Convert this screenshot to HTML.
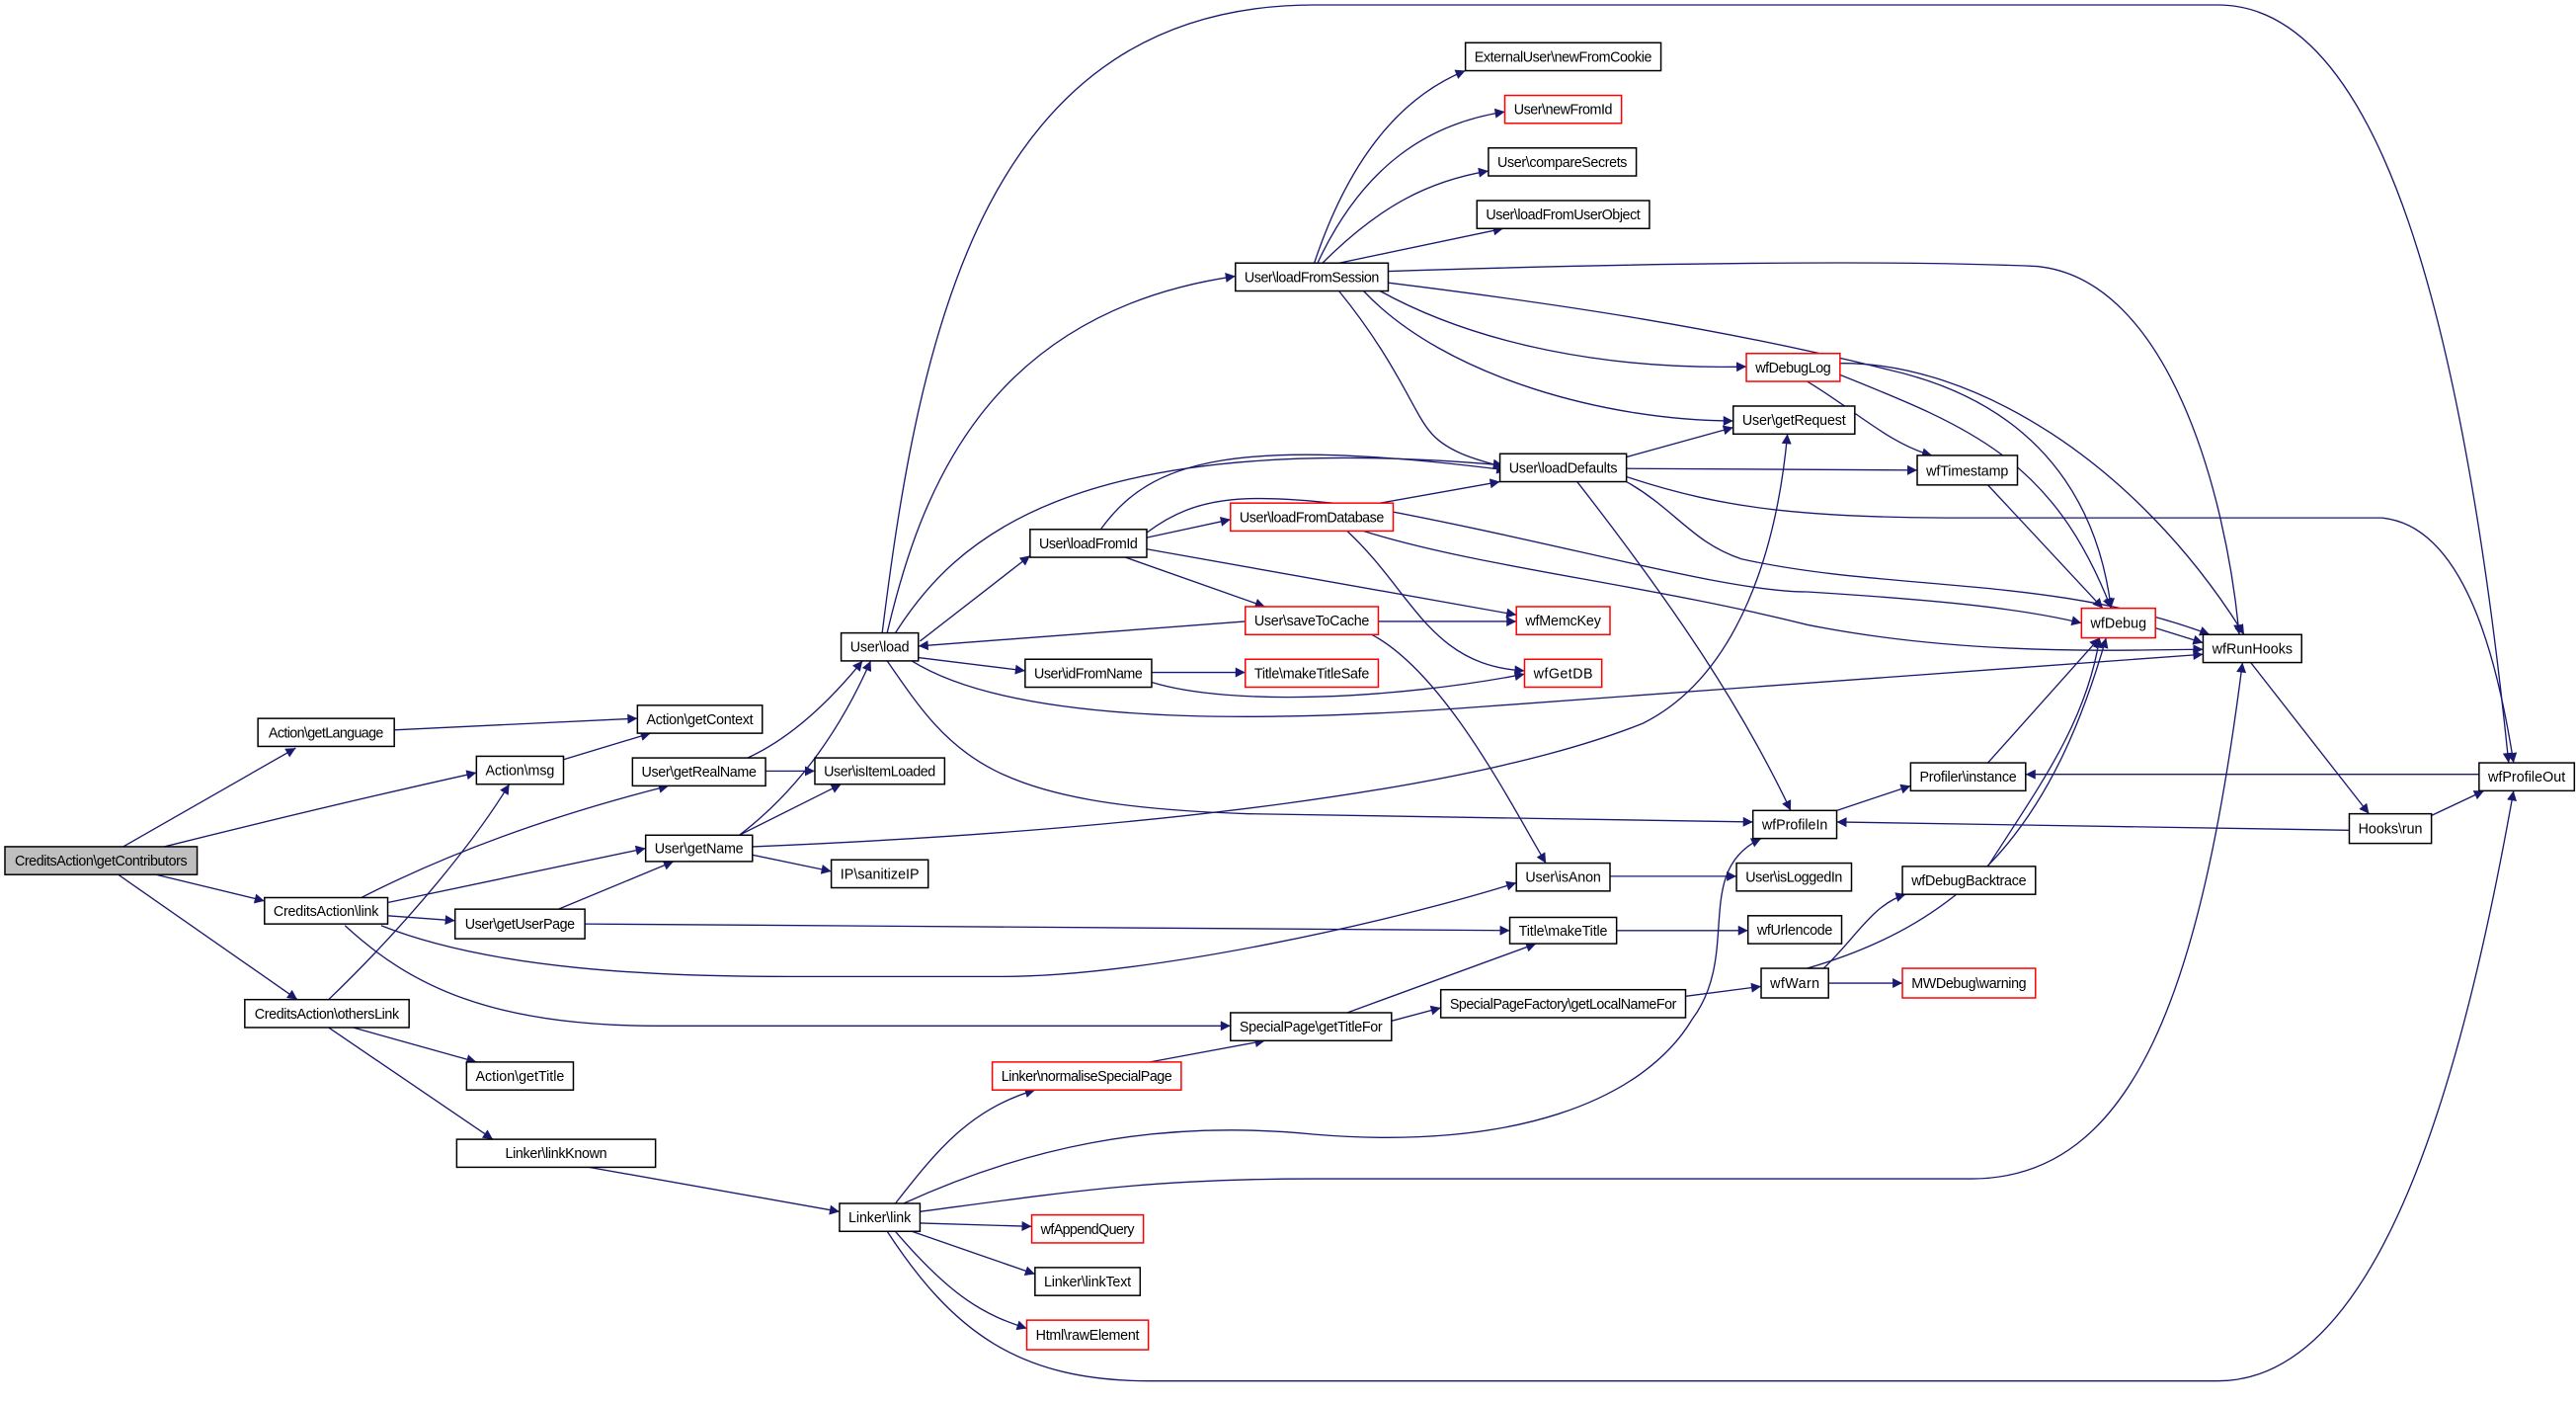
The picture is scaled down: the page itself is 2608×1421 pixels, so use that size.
<!DOCTYPE html>
<html><head><meta charset="utf-8"><style>
html,body{margin:0;padding:0;background:#fff;}
svg{display:block;}
text{font-family:"Liberation Sans",sans-serif;font-size:8.6px;fill:#000;}
</style></head><body>
<svg width="2608" height="1421" viewBox="0 0 1568 854" preserveAspectRatio="none" xmlns="http://www.w3.org/2000/svg">
<defs><marker id="a" viewBox="0 0 10 10" refX="10" refY="5" markerWidth="8" markerHeight="6" markerUnits="userSpaceOnUse" orient="auto"><path d="M0,0 L10,5 L0,10 z" fill="#191970"/></marker></defs>
<g fill="none" stroke="#191970" stroke-width="0.8" marker-end="url(#a)">
<path d="M75,515 L180,455"/>
<path d="M100,515 Q200,490 290,470"/>
<path d="M95,532 L161,548"/>
<path d="M72,532 L181,608"/>
<path d="M240,444 L388,437"/>
<path d="M343,462 L396,446"/>
<path d="M220,546 Q300,505 407,478"/>
<path d="M236,549 L393,516"/>
<path d="M236,557 L277,560"/>
<path d="M232,563 C300,590 400,594 480,594 L610,594 C700,594 850,560 923,537"/>
<path d="M210,563 C250,600 300,624 400,624 L749,624"/>
<path d="M200,608 C250,560 290,510 310,477"/>
<path d="M215,625 L290,646"/>
<path d="M200,625 L300,693"/>
<path d="M466,469 L496,469"/>
<path d="M455,461 Q490,445 525,402"/>
<path d="M450,508 Q500,470 530,402"/>
<path d="M450,508 L512,477"/>
<path d="M458,520 L506,530"/>
<path d="M458,515 C700,505 900,480 1000,440 C1060,410 1082,330 1088,264"/>
<path d="M340,553 L410,524"/>
<path d="M356,562 L919,566"/>
<path d="M353,709 L511,737"/>
<path d="M540,385 C560,300 600,190 752,168"/>
<path d="M537,385 C560,200 600,3 800,3 L1350,3 C1450,3 1500,200 1527,464"/>
<path d="M545,385 C580,330 650,260 915,283"/>
<path d="M560,390 L627,338"/>
<path d="M559,400 L624,408"/>
<path d="M555,402 C600,430 700,445 900,430 L1341,398"/>
<path d="M540,402 C580,460 600,490 760,495 L1067,500"/>
<path d="M670,322 C700,280 750,265 917,286"/>
<path d="M698,327 L749,316"/>
<path d="M685,339 L770,369"/>
<path d="M698,334 L923,374"/>
<path d="M698,324 C730,300 760,300 830,308 C950,330 1050,360 1100,360 C1180,365 1230,370 1267,379"/>
<path d="M701,409 L758,409"/>
<path d="M701,415 C750,430 850,425 928,410"/>
<path d="M758,378 L559,393"/>
<path d="M839,378 L923,378"/>
<path d="M835,386 C880,410 920,490 941,525"/>
<path d="M840,306 L913,293"/>
<path d="M820,323 C860,360 870,405 928,408"/>
<path d="M830,323 C900,345 1000,355 1100,380 C1200,400 1300,395 1341,395"/>
<path d="M800,160 C820,100 850,60 892,43"/>
<path d="M802,160 C830,100 870,75 916,68"/>
<path d="M805,160 C840,125 870,110 906,104"/>
<path d="M815,160 L915,139"/>
<path d="M845,165 C1000,160 1150,158 1240,162 C1320,170 1355,300 1363,386"/>
<path d="M845,172 C950,185 1050,200 1150,225 C1260,250 1280,330 1285,370"/>
<path d="M840,177 C900,210 980,225 1063,223"/>
<path d="M830,177 C880,230 980,256 1055,256"/>
<path d="M815,177 C850,220 860,250 870,262 C880,275 900,280 915,284"/>
<path d="M1100,232 C1130,250 1150,270 1176,277"/>
<path d="M1120,228 C1200,260 1250,280 1285,370"/>
<path d="M1120,221 C1200,220 1300,280 1366,386"/>
<path d="M990,278 L1055,260"/>
<path d="M990,285 L1167,286"/>
<path d="M990,290 C1050,310 1100,315 1200,315 L1450,315 C1500,320 1520,400 1530,464"/>
<path d="M990,293 C1020,310 1030,330 1060,340 C1150,360 1250,350 1345,386"/>
<path d="M960,293 C1020,370 1060,430 1090,493"/>
<path d="M1210,295 L1280,370"/>
<path d="M1312,382 L1341,391"/>
<path d="M1370,403 L1442,495"/>
<path d="M1478,497 L1512,481"/>
<path d="M1430,505 L1118,500"/>
<path d="M1509,471 L1233,471"/>
<path d="M1118,493 L1163,478"/>
<path d="M1210,464 L1278,388"/>
<path d="M980,533 L1057,533"/>
<path d="M984,566 L1064,566"/>
<path d="M820,616 L935,574"/>
<path d="M847,621 L877,613"/>
<path d="M1026,606 L1072,600"/>
<path d="M1110,589 C1130,570 1140,550 1160,544"/>
<path d="M1113,598 L1158,598"/>
<path d="M1100,589 C1200,560 1250,500 1282,388"/>
<path d="M1210,527 C1240,480 1270,440 1278,388"/>
<path d="M700,646 L770,633"/>
<path d="M545,732 C570,700 590,675 630,663"/>
<path d="M550,732 C620,700 700,680 800,690 C920,700 1000,670 1030,620 C1060,580 1030,530 1072,510"/>
<path d="M560,737 C650,725 700,717 800,717 L1200,717 C1300,717 1340,600 1365,403"/>
<path d="M540,749 C580,810 620,840 700,840 L1350,840 C1450,840 1500,650 1530,481"/>
<path d="M560,744 L628,746"/>
<path d="M555,749 L630,775"/>
<path d="M545,749 C580,790 600,800 625,808"/>
</g>
<g stroke-width="0.9" fill="#fff">
<g stroke="#000">
<rect x="3" y="515" width="117" height="17" fill="#bfbfbf"/>
<rect x="157" y="437" width="83" height="17"/>
<rect x="388" y="429" width="76" height="17"/>
<rect x="290" y="460" width="53" height="17"/>
<rect x="385" y="461" width="81" height="17"/>
<rect x="393" y="508" width="65" height="16"/>
<rect x="161" y="546" width="75" height="16"/>
<rect x="277" y="553" width="79" height="18"/>
<rect x="149" y="608" width="100" height="17"/>
<rect x="284" y="646" width="65" height="17"/>
<rect x="466" y="693" width="121" height="17" transform="translate(-188 0)"/>
<rect x="496" y="461" width="79" height="16"/>
<rect x="506" y="523" width="59" height="17"/>
<rect x="892" y="26" width="119" height="17"/>
<rect x="906" y="90" width="90" height="17"/>
<rect x="899" y="122" width="105" height="17"/>
<rect x="752" y="160" width="93" height="17"/>
<rect x="1055" y="247" width="74" height="17"/>
<rect x="913" y="276" width="77" height="17"/>
<rect x="1167" y="277" width="61" height="18"/>
<rect x="1341" y="386" width="60" height="17"/>
<rect x="1163" y="464" width="70" height="17"/>
<rect x="1509" y="464" width="58" height="17"/>
<rect x="1067" y="493" width="51" height="17"/>
<rect x="1430" y="495" width="50" height="18"/>
<rect x="1057" y="525" width="70" height="17"/>
<rect x="1064" y="557" width="57" height="17"/>
<rect x="1158" y="527" width="81" height="17"/>
<rect x="1072" y="589" width="41" height="18"/>
<rect x="512" y="385" width="47" height="17"/>
<rect x="627" y="322" width="71" height="17"/>
<rect x="624" y="401" width="77" height="17"/>
<rect x="923" y="525" width="57" height="17"/>
<rect x="919" y="558" width="65" height="16"/>
<rect x="877" y="602" width="149" height="17"/>
<rect x="749" y="616" width="98" height="17"/>
<rect x="511" y="732" width="49" height="17"/>
<rect x="630" y="771" width="64" height="17"/>
</g>
<g stroke="#f00">
<rect x="916" y="58" width="71" height="17"/>
<rect x="1063" y="215" width="57" height="17"/>
<rect x="749" y="306" width="99" height="17"/>
<rect x="758" y="369" width="81" height="17"/>
<rect x="923" y="369" width="57" height="17"/>
<rect x="758" y="401" width="81" height="17"/>
<rect x="928" y="401" width="47" height="17"/>
<rect x="1267" y="370" width="45" height="18"/>
<rect x="1158" y="589" width="81" height="18"/>
<rect x="604" y="646" width="115" height="17"/>
<rect x="628" y="739" width="68" height="17"/>
<rect x="625" y="803" width="74" height="18"/>
</g>
</g>
<g text-anchor="middle" lengthAdjust="spacingAndGlyphs">
<text x="61.5" y="526.5" textLength="105">CreditsAction\getContributors</text>
<text x="198.5" y="448.5" textLength="70">Action\getLanguage</text>
<text x="426" y="440.5" textLength="65">Action\getContext</text>
<text x="316.5" y="471.5" textLength="42">Action\msg</text>
<text x="425.5" y="472.5" textLength="70">User\getRealName</text>
<text x="425.5" y="519" textLength="54">User\getName</text>
<text x="198.5" y="557" textLength="64">CreditsAction\link</text>
<text x="316.5" y="565" textLength="67">User\getUserPage</text>
<text x="199" y="619.5" textLength="88">CreditsAction\othersLink</text>
<text x="316.5" y="657.5" textLength="54">Action\getTitle</text>
<text x="338.5" y="704.5" textLength="62">Linker\linkKnown</text>
<text x="535.5" y="472" textLength="68">User\isItemLoaded</text>
<text x="535.5" y="534.5" textLength="48">IP\sanitizeIP</text>
<text x="951.5" y="37.5" textLength="108">ExternalUser\newFromCookie</text>
<text x="951.5" y="69.5" textLength="60">User\newFromId</text>
<text x="951" y="101.5" textLength="79">User\compareSecrets</text>
<text x="951.5" y="133.5" textLength="94">User\loadFromUserObject</text>
<text x="798.5" y="171.5" textLength="82">User\loadFromSession</text>
<text x="1091.5" y="226.5" textLength="46">wfDebugLog</text>
<text x="1092" y="258.5" textLength="63">User\getRequest</text>
<text x="951.5" y="287.5" textLength="66">User\loadDefaults</text>
<text x="1197.5" y="289.5" textLength="50">wfTimestamp</text>
<text x="798.5" y="317.5" textLength="88">User\loadFromDatabase</text>
<text x="798.5" y="380.5" textLength="70">User\saveToCache</text>
<text x="951.5" y="380.5" textLength="46">wfMemcKey</text>
<text x="798.5" y="412.5" textLength="70">Title\makeTitleSafe</text>
<text x="951.5" y="412.5" textLength="36">wfGetDB</text>
<text x="1289.5" y="382" textLength="34">wfDebug</text>
<text x="1371" y="397.5" textLength="49">wfRunHooks</text>
<text x="1198" y="475.5" textLength="59">Profiler\instance</text>
<text x="1538" y="475.5" textLength="47">wfProfileOut</text>
<text x="1092.5" y="504.5" textLength="40">wfProfileIn</text>
<text x="1455" y="507" textLength="39">Hooks\run</text>
<text x="1092" y="536.5" textLength="59">User\isLoggedIn</text>
<text x="1092.5" y="568.5" textLength="46">wfUrlencode</text>
<text x="1198.5" y="538.5" textLength="70">wfDebugBacktrace</text>
<text x="1092.5" y="601" textLength="30">wfWarn</text>
<text x="1198.5" y="601" textLength="70">MWDebug\warning</text>
<text x="535.5" y="396.5" textLength="36">User\load</text>
<text x="662.5" y="333.5" textLength="60">User\loadFromId</text>
<text x="662.5" y="412.5" textLength="66">User\idFromName</text>
<text x="951.5" y="536.5" textLength="46">User\isAnon</text>
<text x="951.5" y="569" textLength="54">Title\makeTitle</text>
<text x="951.5" y="613.5" textLength="138">SpecialPageFactory\getLocalNameFor</text>
<text x="798" y="627.5" textLength="87">SpecialPage\getTitleFor</text>
<text x="661.5" y="657.5" textLength="104">Linker\normaliseSpecialPage</text>
<text x="535.5" y="743.5" textLength="38">Linker\link</text>
<text x="662" y="750.5" textLength="57">wfAppendQuery</text>
<text x="662" y="782.5" textLength="53">Linker\linkText</text>
<text x="662" y="815" textLength="63">Html\rawElement</text>
</g>
</svg>
</body></html>
